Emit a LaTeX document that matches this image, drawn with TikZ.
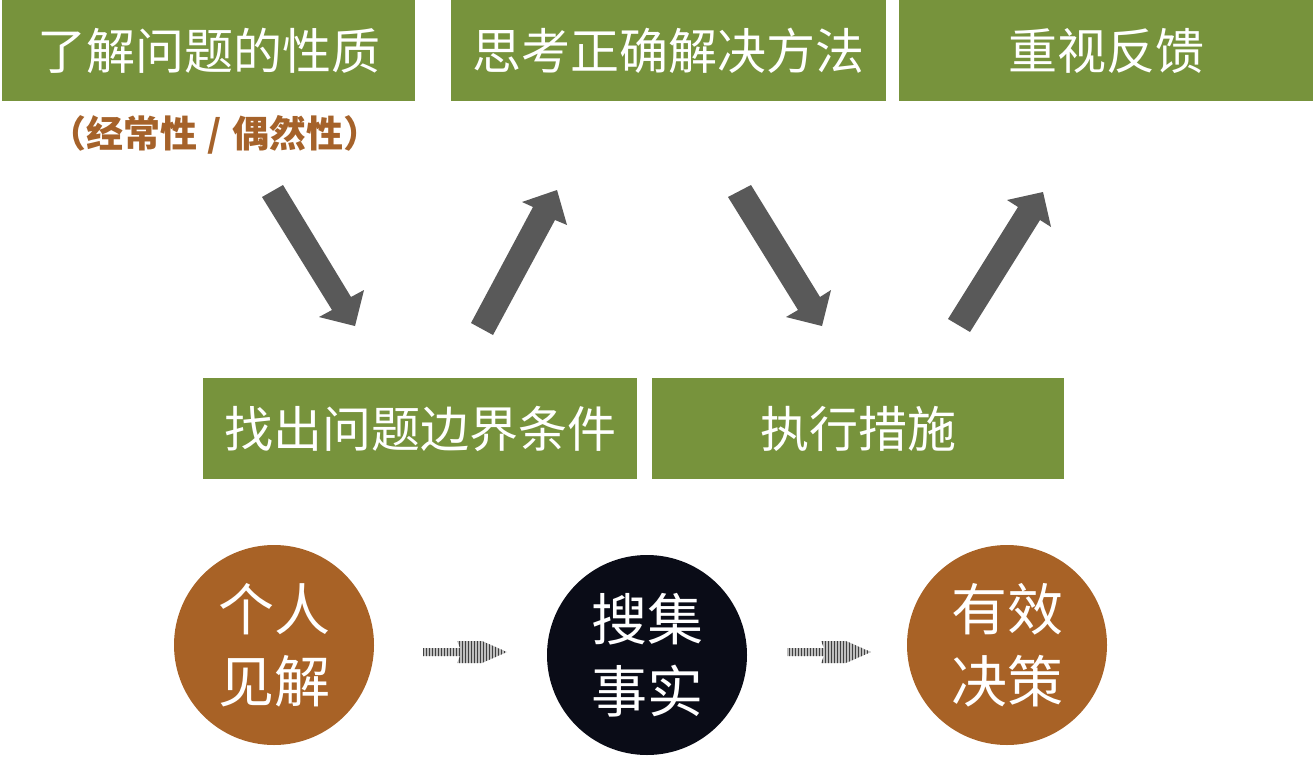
\documentclass[tikz,border=0pt]{standalone}
\usepackage{fontspec}
\newfontfamily\cjk{Noto Sans CJK SC}
\usetikzlibrary{patterns}
\definecolor{boxgreen}{RGB}{119,147,60}
\definecolor{brownc}{RGB}{168,98,38}
\definecolor{subbrown}{RGB}{165,98,42}
\definecolor{darkc}{RGB}{10,12,23}
\definecolor{arrowgray}{RGB}{89,89,89}
\begin{document}
\begin{tikzpicture}[x=1pt,y=-1pt,
  greenbox/.style={rectangle, fill=boxgreen, text=white, inner sep=0pt,
    minimum height=101pt, font=\cjk\fontsize{49}{56}\selectfont},
  roundnode/.style={circle, minimum size=200pt, inner sep=0pt, text=white,
    align=center, font=\cjk\fontsize{56}{72}\selectfont},
  bigarrow/.style={fill=arrowgray},
  smallarrow/.style={pattern=vertical lines, pattern color=black!75}
]
\useasboundingbox (0,0) rectangle (1313,760);
% top boxes
\node[greenbox, minimum width=413pt] (b1) at (208.5,50.5) {了解问题的性质};
\node[greenbox, minimum width=435pt] (b2) at (668.5,50.5) {思考正确解决方法};
\node[greenbox, minimum width=414pt] (b3) at (1106,50.5) {重视反馈};
\node[text=subbrown, font=\cjk\bfseries\fontsize{37}{40}\selectfont] (sub) at (215,135) {（经常性\hspace{10pt}/\hspace{10pt}偶然性）};
% middle boxes
\node[greenbox, minimum width=434pt] (b4) at (420,428.5) {找出问题边界条件};
\node[greenbox, minimum width=412pt] (b5) at (858,428.5) {执行措施};
% block arrows
\fill[bigarrow] (262,197) -- (283,185) -- (351,297) -- (364,290) -- (355,326) -- (319,317) -- (332,310) -- cycle;
\fill[bigarrow] (471,323) -- (493,335) -- (555,220) -- (567,225) -- (557,190) -- (522,202) -- (533,207) -- cycle;
\fill[bigarrow] (728,197) -- (751,185) -- (820,297) -- (831,290) -- (822,326) -- (786,317) -- (798,310) -- cycle;
\fill[bigarrow] (948,319) -- (970,332) -- (1040,220) -- (1051,227) -- (1043,192) -- (1007,200) -- (1018,207) -- cycle;
% circles
\node[roundnode, fill=brownc] (c1) at (274,645) {个人\\见解};
\node[roundnode, fill=darkc] (c2) at (647,655) {搜集\\事实};
\node[roundnode, fill=brownc] (c3) at (1007,645) {有效\\决策};
% small hatched arrows
\foreach \dx in {0,364}{
  \begin{scope}[xshift=\dx]
  \fill[gray!50] (423,648) -- (460,648) -- (457,641) -- (482,641) -- (507,652) -- (482,663) -- (457,663) -- (460,656) -- (423,656) -- cycle;
  \fill[smallarrow] (423,648) -- (460,648) -- (457,641) -- (482,641) -- (507,652) -- (482,663) -- (457,663) -- (460,656) -- (423,656) -- cycle;
  \end{scope}
}
\end{tikzpicture}
\end{document}
